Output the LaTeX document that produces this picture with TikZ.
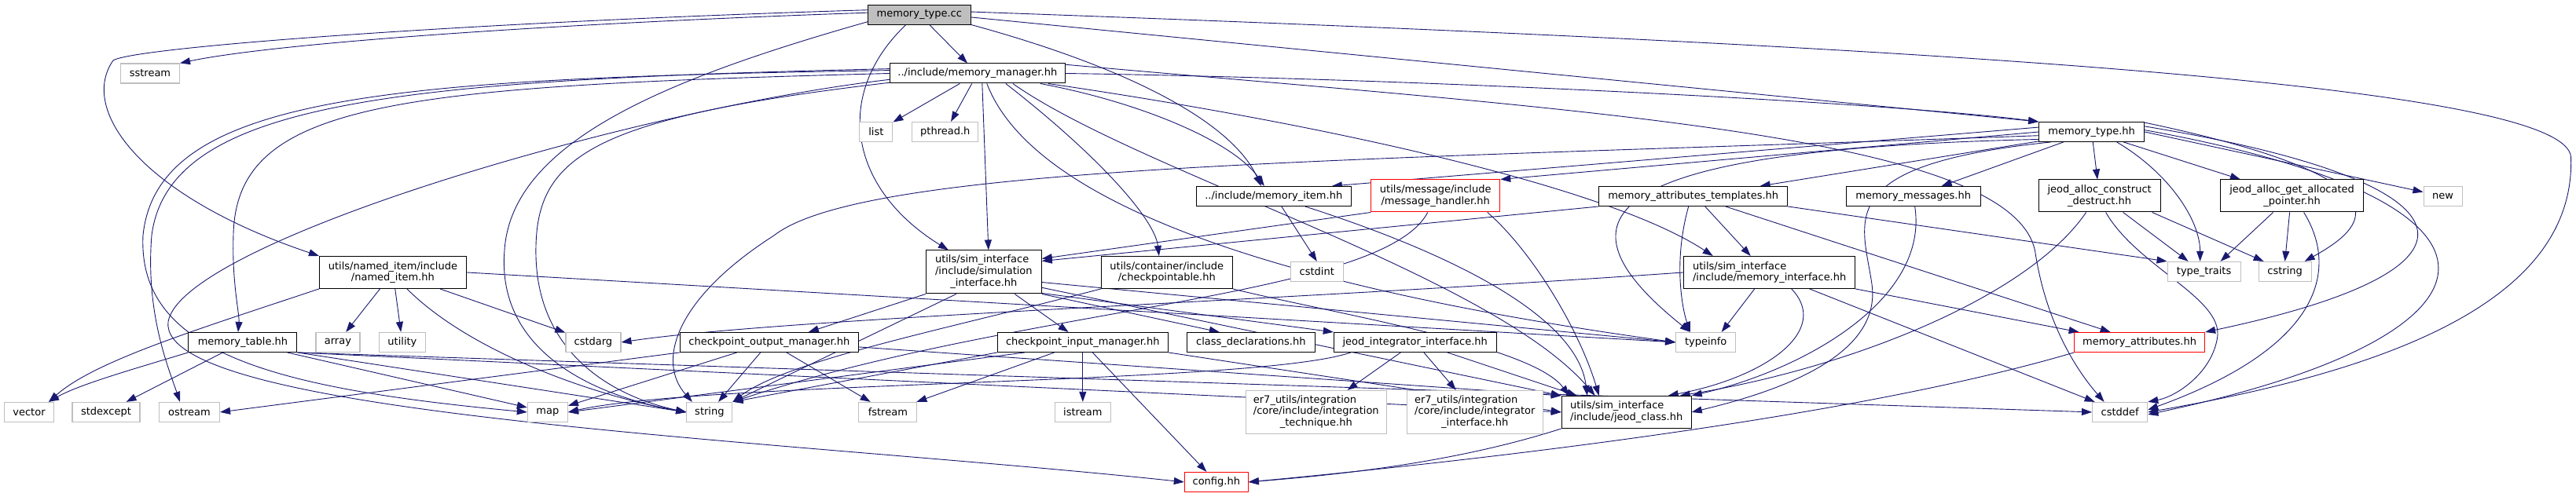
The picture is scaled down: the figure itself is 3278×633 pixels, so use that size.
\documentclass[tikz,border=0pt]{standalone}
\usepackage{fontspec}
\setmainfont{DejaVu Sans}
\usetikzlibrary{arrows.meta}
\pgfdeclarelayer{back}
\pgfdeclarelayer{bg}
\pgfsetlayers{back,bg,main}
\definecolor{edgec}{HTML}{191970}
\definecolor{sysb}{HTML}{BFBFBF}
\definecolor{rootf}{HTML}{BFBFBF}
\definecolor{trb}{HTML}{FF0000}
\tikzset{
 nd/.style={draw, line width=1pt, font=\fontsize{13}{14.7}\selectfont, inner xsep=3pt, inner ysep=2pt, align=center, minimum height=25pt, fill=white},
 doc/.style={nd, draw=black},
 sys/.style={nd, draw=sysb, line width=1.2pt},
 trunc/.style={nd, draw=trb},
 root/.style={nd, draw=black, fill=rootf},
 ar/.style={draw=edgec, line width=0.9pt, -{Triangle[length=13pt,width=9pt]}},
}
\begin{document}
\begin{tikzpicture}[x=1pt,y=-1pt]
\begin{pgfonlayer}{back}
\useasboundingbox[fill=white] (0,0) rectangle (3278,633);
\end{pgfonlayer}
% nodes
\node[root, minimum width=131pt] (mtcc) at (1170,18.5) {memory\_type.cc};
\node[sys, minimum width=75pt] (sstream) at (191,93.5) {sstream};
\node[doc, minimum width=223pt] (mm) at (1244,93.5) {../include/memory\_manager.hh};
\node[sys, minimum width=42pt] (list) at (1115,168) {list};
\node[sys, minimum width=84pt] (pthread) at (1203,168) {pthread.h};
\node[doc, minimum width=197pt] (mitem) at (1621,250) {../include/memory\_item.hh};
\node[trunc, minimum width=164pt, minimum height=41pt] (msgh) at (1827,249.5) {utils/message/include\\/message\_handler.hh};
\node[doc, minimum width=240pt] (mat) at (2155,250) {memory\_attributes\_templates.hh};
\node[doc, minimum width=171pt] (mmsg) at (2435,250) {memory\_messages.hh};
\node[doc, minimum width=155pt, minimum height=41pt] (jacd) at (2672,249.5) {jeod\_alloc\_construct\\\_destruct.hh};
\node[doc, minimum width=182pt, minimum height=41pt] (jagap) at (2917,249.5) {jeod\_alloc\_get\_allocated\\\_pointer.hh};
\node[sys, minimum width=49pt] (new) at (3109,250) {new};
\node[doc, minimum width=134pt] (mth) at (2662,168) {memory\_type.hh};
\node[doc, minimum width=187pt, minimum height=41pt] (named) at (500,347) {utils/named\_item/include\\/named\_item.hh};
\node[doc, minimum width=138pt] (mtable) at (309,436) {memory\_table.hh};
\node[sys, minimum width=56pt] (array) at (430,436) {array};
\node[sys, minimum width=59pt] (utility) at (512,436) {utility};
\node[sys, minimum width=70pt] (cstdarg) at (755,436) {cstdarg};
\node[sys, minimum width=63pt] (vector) at (37,525) {vector};
\node[sys, minimum width=86pt] (stdexcept) at (135,525) {stdexcept};
\node[sys, minimum width=77pt] (ostream) at (241,525) {ostream};
\node[sys, minimum width=51pt] (map) at (697,525) {map};
\node[doc, minimum width=147pt, minimum height=55pt] (simif) at (1252,346.5) {\begin{tabular}{@{}l@{}}utils/sim\_interface\\/include/simulation\\\multicolumn{1}{@{}c@{}}{\_interface.hh}\end{tabular}};
\node[doc, minimum width=167pt, minimum height=41pt] (ckptable) at (1485,347) {utils/container/include\\/checkpointable.hh};
\node[doc, minimum width=227pt] (ckout) at (979,436) {checkpoint\_output\_manager.hh};
\node[doc, minimum width=217pt] (ckin) at (1378,436) {checkpoint\_input\_manager.hh};
\node[doc, minimum width=163pt] (classdecl) at (1592,436) {class\_declarations.hh};
\node[sys, minimum width=58pt] (string) at (903,525) {string};
\node[sys, minimum width=74pt] (fstream) at (1130,525) {fstream};
\node[sys, minimum width=71pt] (istream) at (1378,525) {istream};
\node[trunc, minimum width=81pt] (config) at (1548,614) {config.hh};
\node[sys, minimum width=179pt, minimum height=55pt] (ertech) at (1675,525) {\begin{tabular}{@{}l@{}}er7\_utils/integration\\/core/include/integration\\\multicolumn{1}{@{}c@{}}{\_technique.hh}\end{tabular}};
\node[sys, minimum width=173pt, minimum height=55pt] (erinteg) at (1877,525) {\begin{tabular}{@{}l@{}}er7\_utils/integration\\/core/include/integrator\\\multicolumn{1}{@{}c@{}}{\_interface.hh}\end{tabular}};
\node[doc, minimum width=207pt] (jii) at (1801,436) {jeod\_integrator\_interface.hh};
\node[doc, minimum width=165pt, minimum height=41pt, align=left] (jeodclass) at (2070,525) {utils/sim\_interface\\/include/jeod\_class.hh};
\node[sys, minimum width=67pt] (cstdint) at (1676,346) {cstdint};
\node[doc, minimum width=218pt, minimum height=41pt, align=left] (memif) at (2252,347) {utils/sim\_interface\\/include/memory\_interface.hh};
\node[sys, minimum width=76pt] (typeinfo) at (2171,436) {typeinfo};
\node[sys, minimum width=93pt] (ttraits) at (2805,346) {type\_traits};
\node[sys, minimum width=67pt] (cstring) at (2908,346) {cstring};
\node[trunc, minimum width=166pt] (mattr) at (2723,436) {memory\_attributes.hh};
\node[sys, minimum width=70pt] (cstddef) at (2698,525) {cstddef};

\begin{pgfonlayer}{bg}
% memory_type.cc
\draw[ar] (mtcc.178) .. controls (700,30) and (350,55) .. (sstream.north east);
\draw[ar] (mtcc.175) .. controls (600,28) and (170,60) .. (144,77) .. controls (100,140) and (180,250) .. (named.north west);
\draw[ar] (mtcc) -- (mm);
\draw[ar] (mtcc.-3) -- (mth.north west);
\draw[ar] (mtcc.3) .. controls (2500,60) and (3265,110) .. (3272,200) .. controls (3278,380) and (3050,470) .. (cstddef.east);
\draw[ar] ([xshift=-17pt]mtcc.south) .. controls (1060,120) and (1080,240) .. ([xshift=-45pt]simif.north);
\draw[ar] (mtcc.south east) .. controls (1450,90) and (1570,160) .. ([xshift=-16pt]mitem.north);
\draw[ar] (mtcc.-172) .. controls (850,100) and (650,180) .. (642,320) .. controls (632,450) and (760,505) .. (string.west);
% memory_manager
\draw[ar] (mm) -- (list);
\draw[ar] (mm) -- (pthread);
\draw[ar] ([xshift=80pt]mm.south) .. controls (1450,130) and (1570,180) .. ([xshift=-12pt]mitem.north);
\draw[ar] (mm.west) .. controls (500,110) and (300,130) .. (297,300) .. controls (295,360) and (305,400) .. ([xshift=-6pt]mtable.north);
\draw[ar] (mm.178) .. controls (500,100) and (200,120) .. (182,300) .. controls (175,450) and (350,495) .. (map.west);
\draw[ar] (mm.177) .. controls (500,102) and (215,130) .. (193,300) .. controls (185,400) and (215,470) .. ([xshift=-12pt]ostream.north);
\draw[ar] (mm.-176) .. controls (800,140) and (230,310) .. (214,410) .. controls (200,530) and (1000,560) .. (config.west);
\draw[ar] (mm.-174) .. controls (750,150) and (682,200) .. (682,320) .. controls (682,450) and (780,505) .. (string.west);
\draw[ar] (mm.east) .. controls (1800,100) and (2400,130) .. (mth.north west);
\draw[ar] ([xshift=6pt]mm.south) -- ([xshift=6pt]simif.north);
\draw[ar] ([xshift=12pt]mm.south) .. controls (1330,300) and (1800,390) .. (typeinfo.west);
\draw[ar] ([xshift=36pt]mm.south) .. controls (1400,200) and (1470,280) .. ([xshift=-10pt]ckptable.north);
\draw[ar] ([xshift=45pt]mm.south) .. controls (1450,220) and (1900,350) .. ([xshift=-40pt]jeodclass.north);
\draw[ar] ([xshift=90pt]mm.south) .. controls (1700,160) and (2050,240) .. ([xshift=-72pt]memif.north);
\draw[ar] (mm.8) .. controls (2000,140) and (2560,170) .. (2590,320) .. controls (2605,420) and (2650,480) .. ([xshift=-20pt]cstddef.north);
% named_item
\draw[ar] (named.south west) .. controls (250,420) and (120,460) .. ([xshift=25pt]vector.north);
\draw[ar] (named) -- (array);
\draw[ar] (named) -- (utility);
\draw[ar] (named) -- (cstdarg);
\draw[ar] ([xshift=18pt]named.south) .. controls (600,450) and (760,505) .. (string.west);
\draw[ar] (named.east) -- (typeinfo.west);
% memory_table
\draw[ar] (mtable.south west) .. controls (170,470) and (100,490) .. ([xshift=25pt]vector.north);
\draw[ar] (mtable) -- (stdexcept);
\draw[ar] (mtable) -- (map);
\draw[ar] (mtable.south east) -- (string.west);
\draw[ar] (mtable.south east) -- (jeodclass.west);
\draw[ar] (mtable.south east) -- (cstddef.west);
% simulation_interface
\draw[ar] (simif.south west) -- ([xshift=50pt]ckout.north);
\draw[ar] (simif) -- (ckin);
\draw[ar] (simif.south east) -- ([xshift=-40pt]classdecl.north);
\draw[ar] ([xshift=-35pt]simif.south) -- (string.north east);
\draw[ar] (simif.-20) -- (jii.north west);
\draw[ar] (simif.-15) -- (jeodclass.north west);
\draw[ar] (simif.-10) -- (typeinfo.west);
% checkpointable
\draw[ar] (ckptable.south west) .. controls (1200,420) and (1000,460) .. (string.north east);
\draw[ar] (ckptable.south east) .. controls (1700,400) and (1950,440) .. ([xshift=10pt]jeodclass.north west);
% checkpoint_output_manager
\draw[ar] (ckout) -- (string);
\draw[ar] (ckout) -- (fstream);
\draw[ar] (ckout) -- (map);
\draw[ar] (ckout.south west) -- (ostream.east);
\draw[ar] (ckout.-3) -- (jeodclass.north west);
% checkpoint_input_manager
\draw[ar] (ckin.south west) -- (string.north east);
\draw[ar] (ckin) -- (fstream);
\draw[ar] (ckin) -- (istream);
\draw[ar] (ckin) -- (config);
\draw[ar] ([xshift=35pt]ckin.south west) -- (map.east);
\draw[ar] (ckin.south east) -- (jeodclass.west);
% jeod_integrator_interface
\draw[ar] (jii) -- (ertech);
\draw[ar] (jii) -- (erinteg);
\draw[ar] ([xshift=-63pt]jii.south east) -- ([xshift=20pt]jeodclass.north west);
\draw[ar] ([xshift=22pt]jii.south west) .. controls (1600,490) and (900,485) .. (map.east);
% jeod_class
\draw[ar] (jeodclass.south west) .. controls (1850,590) and (1700,605) .. (config.east);
% memory_type.hh
\draw[ar] (mth.175) -- ([xshift=-25pt]mitem.north east);
\draw[ar] (mth.west) -- (msgh.north east);
\draw[ar] (mth.-170) -- ([xshift=85pt]mat.north);
\draw[ar] (mth) -- (mmsg);
\draw[ar] (mth) -- (jacd);
\draw[ar] (mth) -- (jagap);
\draw[ar] (mth.east) -- (new);
\draw[ar] ([xshift=32pt]mth.south) .. controls (2760,220) and (2800,280) .. ([xshift=-5pt]ttraits.north);
\draw[ar] (mth.10) .. controls (3080,230) and (3010,290) .. ([xshift=25pt]cstring.north);
\draw[ar] (mth.6) .. controls (3150,230) and (3200,340) .. (mattr.north east);
\draw[ar] (mth.2) .. controls (3250,260) and (3200,430) .. ([yshift=-3pt]cstddef.east);
\draw[ar] (mth.-172) .. controls (2050,190) and (1960,270) .. ([xshift=-20pt]typeinfo.north);
\draw[ar] (mth.-166) .. controls (2330,210) and (2370,280) .. (2382,360) .. controls (2395,440) and (2300,490) .. (jeodclass.east);
\draw[ar] (mth.-176) .. controls (1700,205) and (1100,210) .. (985,300) .. controls (860,380) and (835,460) .. ([xshift=-22pt]string.north);
% message_handler
\draw[ar] (msgh.south west) -- ([yshift=-11pt]simif.north east);
\draw[ar] ([xshift=-10pt]msgh.south) .. controls (1760,380) and (1300,390) .. (string.north east);
\draw[ar] ([xshift=66pt]msgh.south) .. controls (1950,320) and (2010,420) .. ([xshift=-35pt]jeodclass.north);
% memory_attributes_templates
\draw[ar] (mat.south west) -- ([yshift=-14pt]simif.north east);
\draw[ar] ([xshift=-6pt]mat.south) .. controls (2130,330) and (2140,390) .. ([xshift=-20pt]typeinfo.north);
\draw[ar] ([xshift=15pt]mat.south) -- ([xshift=-24pt]memif.north);
\draw[ar] ([xshift=41pt]mat.south) -- ([xshift=-37pt]mattr.north);
\draw[ar] (mat.south east) -- (ttraits.north west);
% memory_messages
\draw[ar] ([xshift=2pt]mmsg.south) .. controls (2455,380) and (2300,470) .. (jeodclass.north east);
% jeod_alloc_construct_destruct
\draw[ar] ([xshift=30pt]jacd.south) -- ([xshift=-20pt]ttraits.north);
\draw[ar] ([xshift=67pt]jacd.south) -- ([xshift=-27pt]cstring.north);
\draw[ar] ([xshift=8pt]jacd.south) .. controls (2720,340) and (2830,380) .. (2822,430) .. controls (2815,475) and (2770,505) .. (cstddef.north east);
\draw[ar] ([xshift=-17pt]jacd.south) .. controls (2580,380) and (2350,470) .. ([xshift=-15pt]jeodclass.north east);
% jeod_alloc_get_allocated_pointer
\draw[ar] ([xshift=-24pt]jagap.south) -- ([xshift=21pt]ttraits.north);
\draw[ar] ([xshift=-3pt]jagap.south) -- (cstring.north);
\draw[ar] ([xshift=15pt]jagap.south) .. controls (2975,340) and (2960,440) .. ([yshift=3pt]cstddef.east);
% memory_interface
\draw[ar] (memif.west) .. controls (1600,385) and (1000,405) .. (cstdarg.east);
\draw[ar] ([xshift=-19pt]memif.south) -- ([xshift=20pt]typeinfo.north);
\draw[ar] ([xshift=28pt]memif.south) .. controls (2330,420) and (2250,480) .. ([xshift=-30pt]jeodclass.north east);
\draw[ar] ([xshift=51pt]memif.south) -- ([xshift=-32pt]cstddef.north);
\draw[ar] (memif.south east) -- ([xshift=-77pt]mattr.north);
% memory_item
\draw[ar] ([xshift=10pt]mitem.south) -- (cstdint.north);
\draw[ar] ([xshift=40pt]mitem.south) .. controls (1900,340) and (2010,420) .. ([xshift=-50pt]jeodclass.north);
% memory_attributes
\draw[ar] (mattr.south west) .. controls (2400,520) and (2000,575) .. (config.east);
\end{pgfonlayer}
\end{tikzpicture}
\end{document}
